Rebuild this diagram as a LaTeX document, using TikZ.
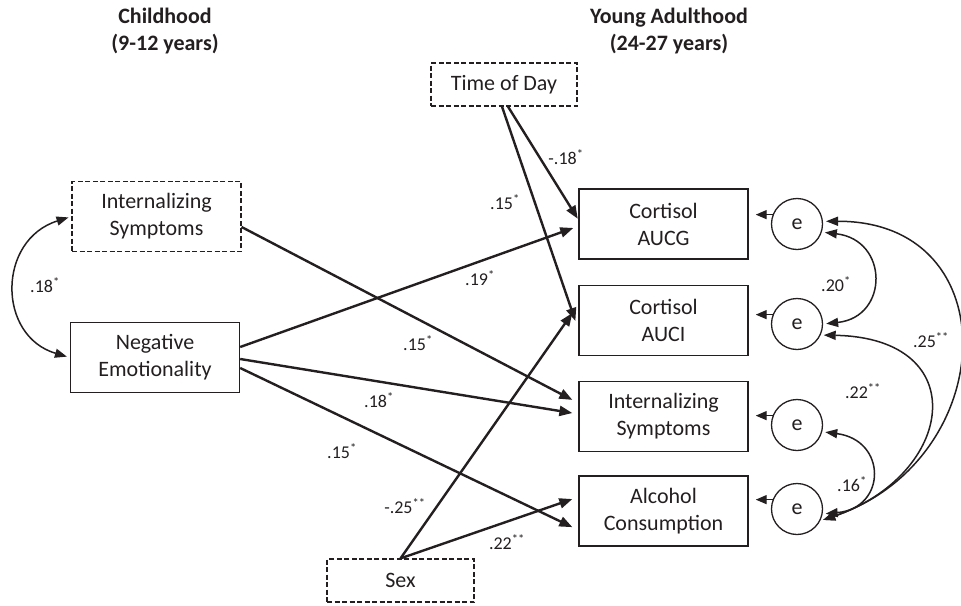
\documentclass[tikz,border=0pt]{standalone}
\usepackage{fontspec}
\setmainfont{Carlito}
\usetikzlibrary{arrows.meta}
\definecolor{ink}{HTML}{231F20}
\begin{document}
\begin{tikzpicture}[x=1pt,y=-1pt,
  box/.style={draw=ink, line width=1.4pt, minimum width=169pt, minimum height=70pt, align=center, inner sep=0pt, font=\fontsize{22}{27}\selectfont, text=ink},
  dbox/.style={box, line width=1.2pt, dash pattern=on 5pt off 2.5pt},
  err/.style={draw=ink, circle, line width=1.3pt, minimum size=51pt, inner sep=0pt, font=\fontsize{22}{27}\selectfont, text=ink},
  reg/.style={draw=ink, line width=2.4pt, -{Triangle[length=13pt,width=10pt]}},
  earr/.style={draw=ink, line width=1.4pt, -{Triangle[length=11pt,width=9pt]}},
  cov/.style={draw=ink, line width=1.5pt, {Triangle[length=12pt,width=9pt]}-{Triangle[length=12pt,width=9pt]}, shorten <=3pt, shorten >=3pt},
  lab/.style={font=\fontsize{18}{20}\selectfont, text=ink, inner sep=1pt},
  head/.style={font=\bfseries\fontsize{22}{27}\selectfont, align=center, text=ink}
]
\useasboundingbox (0,0) rectangle (961,605);

% headings
\node[head] (hc) at (165,31.5) {Childhood\\(9-12 years)};
\node[head] (ha) at (669,31.5) {Young Adulthood\\(24-27 years)};

% boxes
\node[dbox] (ci) at (156.5,216.5) {Internalizing\\Symptoms};
\node[box] (ne) at (155,357.5) {Negative\\Emotionality};
\node[dbox, minimum width=146pt, minimum height=43pt] (tod) at (504,84.5) {Time of Day};
\node[dbox, minimum width=147pt, minimum height=43pt] (sex) at (400.5,580.5) {Sex};
\node[box] (ag) at (663.5,224) {Cortisol\\AUCG};
\node[box] (ai) at (663.5,320.5) {Cortisol\\AUCI};
\node[box] (ain) at (663.5,416.5) {Internalizing\\Symptoms};
\node[box] (al) at (663.5,511) {Alcohol\\Consumption};

% error terms
\node[err] (e1) at (797,224) {e};
\node[err] (e2) at (797,324) {e};
\node[err] (e3) at (797,425) {e};
\node[err] (e4) at (797,509) {e};

% regression paths
\draw[reg, shorten >=6.7pt] ([yshift=-10.5pt]ci.east) -- ([yshift=13.5pt]ain.west);
\draw[reg, shorten >=5.3pt] ([yshift=10.5pt]ne.east) -- ([yshift=-2.2pt]ag.west);
\draw[reg, shorten >=6pt] ([yshift=-1.5pt]ne.east) -- ([yshift=2.5pt]ain.west);
\draw[reg, shorten >=6.6pt] ([yshift=-10.5pt]ne.east) -- ([yshift=-19pt]al.west);
\draw[reg, shorten >=1pt] ([xshift=4pt]tod.south) -- ([yshift=4.4pt]ag.west);
\draw[reg, shorten >=9pt] ([xshift=-2pt]tod.south) -- ([yshift=-9pt]ai.west);
\draw[reg, shorten >=10.4pt] (sex.north) -- ([yshift=16pt]ai.west);
\draw[reg, shorten >=6.3pt] (sex.north) -- ([yshift=14pt]al.west);

% error arrows
\draw[earr, shorten >=7pt] (e1.159) -- (e1.159 -| ag.east);
\draw[earr, shorten >=7pt] (e2.159) -- (e2.159 -| ai.east);
\draw[earr, shorten >=7pt] (e3.159) -- (e3.159 -| ain.east);
\draw[earr, shorten >=7pt] (e4.159) -- (e4.159 -| al.east);

% covariances
\draw[cov] (ci.west) .. controls (-3,240) and (-3,336) .. (ne.west);
\draw[cov] (e1.-18) .. controls (889,240) and (889,317) .. (e2.0);
\draw[cov] (e1.6) .. controls (1010,221) and (1000,460) .. (e4.-27);
\draw[cov] (e2.-25) .. controls (975,338) and (955,475) .. (e4.-27);
\draw[cov] (e3.-15) .. controls (887,440) and (887,508) .. (e4.-11);

% labels
\node[lab] (l1) at (45,285) {.18\textsuperscript{*}};
\node[lab] (l2) at (418,343) {.15\textsuperscript{*}};
\node[lab] (l3) at (480,278) {.19\textsuperscript{*}};
\node[lab] (l4) at (379,400) {.18\textsuperscript{*}};
\node[lab] (l5) at (342,451) {.15\textsuperscript{*}};
\node[lab] (l6) at (566,157) {-.18\textsuperscript{*}};
\node[lab] (l7) at (505,202) {.15\textsuperscript{*}};
\node[lab] (l8) at (405,506) {-.25\textsuperscript{**}};
\node[lab] (l9) at (507,542) {.22\textsuperscript{**}};
\node[lab] (l10) at (836,284) {.20\textsuperscript{*}};
\node[lab] (l11) at (931,340) {.25\textsuperscript{**}};
\node[lab, fill=white] (l12) at (863,391) {.22\textsuperscript{**}};
\node[lab] (l13) at (852,484) {.16\textsuperscript{*}};
\end{tikzpicture}
\end{document}
